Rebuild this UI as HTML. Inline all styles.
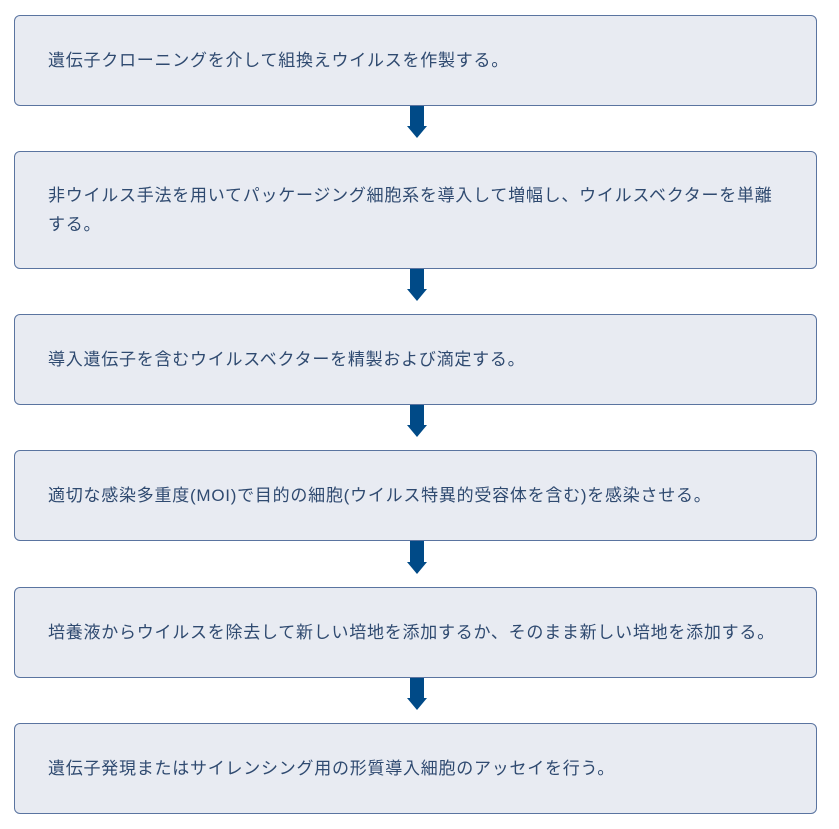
<!DOCTYPE html>
<html><head><meta charset="utf-8"><style>
body{margin:0;width:839px;height:829px;background:#fff;position:relative;font-family:"Liberation Sans","Noto Sans CJK JP",sans-serif;}
.b{position:absolute;left:14px;width:803px;background:#e8ebf2;border:1px solid #5a74a0;border-radius:6px;box-sizing:border-box;display:flex;align-items:center;padding:0 10px 0 33px;color:#2f4a70;font-size:17px;letter-spacing:0.75px;line-height:29px;}
.a{position:absolute;left:407px;width:20px;}
.a .s{position:absolute;left:3px;top:0;width:14px;background:#004a87;}
.a .h{position:absolute;left:0;width:0;height:0;border-left:10px solid transparent;border-right:10px solid transparent;border-top:12px solid #004a87;}
</style></head><body>
<div class="b" style="top:15px;height:91px">遺伝子クローニングを介して組換えウイルスを作製する。</div>
<div class="a" style="top:106px"><div class="s" style="height:20px"></div><div class="h" style="top:20px"></div></div>
<div class="b" style="top:151px;height:118px">非ウイルス手法を用いてパッケージング細胞系を導入して増幅し、ウイルスベクターを単離<br>する。</div>
<div class="a" style="top:269px"><div class="s" style="height:20px"></div><div class="h" style="top:20px"></div></div>
<div class="b" style="top:314px;height:91px">導入遺伝子を含むウイルスベクターを精製および滴定する。</div>
<div class="a" style="top:405px"><div class="s" style="height:20px"></div><div class="h" style="top:20px"></div></div>
<div class="b" style="top:450px;height:91px">適切な感染多重度(MOI)で目的の細胞(ウイルス特異的受容体を含む)を感染させる。</div>
<div class="a" style="top:541px"><div class="s" style="height:21px"></div><div class="h" style="top:21px"></div></div>
<div class="b" style="top:587px;height:91px">培養液からウイルスを除去して新しい培地を添加するか、そのまま新しい培地を添加する。</div>
<div class="a" style="top:678px"><div class="s" style="height:20px"></div><div class="h" style="top:20px"></div></div>
<div class="b" style="top:723px;height:91px">遺伝子発現またはサイレンシング用の形質導入細胞のアッセイを行う。</div>
</body></html>
